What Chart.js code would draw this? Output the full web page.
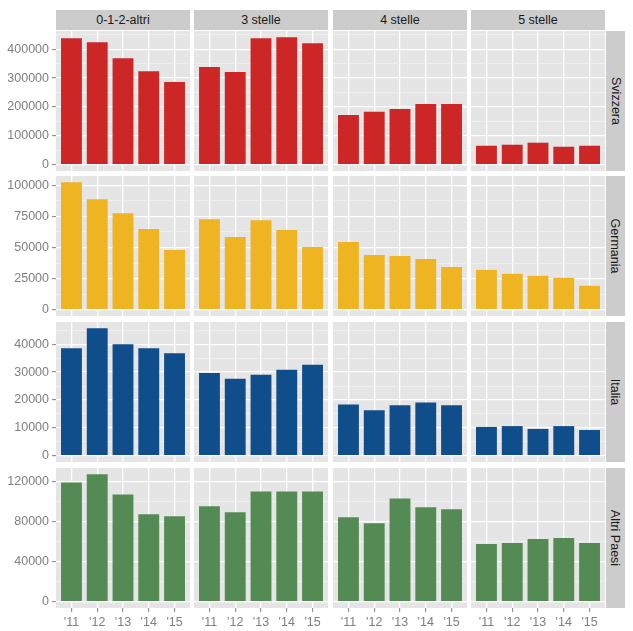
<!DOCTYPE html>
<html><head><meta charset="utf-8">
<script src="https://cdn.jsdelivr.net/npm/chart.js@4"></script>
<style>
body{margin:0;background:#fff;width:633px;height:631px;position:relative;overflow:hidden;font-family:"Liberation Sans",Arial,sans-serif}
.strip{position:absolute;background:#CCCCCC;color:#1A1A1A;font-size:12.5px;display:flex;align-items:center;justify-content:center}
.vtext{transform:rotate(90deg);white-space:nowrap}
canvas{position:absolute}
</style></head><body>
<script>
// ---- data ----
const years = ["'11", "'12", "'13", "'14", "'15"];
const categories = ["0-1-2-altri", "3 stelle", "4 stelle", "5 stelle"];
const countries = ["Svizzera", "Germania", "Italia", "Altri Paesi"];

const svizzera012 = [438000, 424000, 369000, 324000, 286000];
const svizzera3   = [338000, 321000, 438000, 441000, 421000];
const svizzera4   = [172000, 183000, 193000, 210000, 210000];
const svizzera5   = [65500, 69000, 76000, 62000, 65500];

const germania012 = [102400, 88800, 77600, 64800, 48000];
const germania3   = [72800, 58400, 72000, 64000, 50400];
const germania4   = [54400, 44000, 43200, 40800, 34400];
const germania5   = [32000, 28800, 27200, 25600, 19200];

const italia012 = [38600, 45700, 40000, 38600, 36800];
const italia3   = [29700, 27600, 29000, 30800, 32600];
const italia4   = [18400, 16300, 18100, 19100, 18100];
const italia5   = [10300, 10600, 9600, 10600, 9200];

const altri012 = [119000, 127000, 107000, 87300, 85300];
const altri3   = [95200, 89300, 110000, 110000, 110000];
const altri4   = [84300, 78300, 103000, 94200, 92200];
const altri5   = [57500, 58500, 62500, 63500, 58500];

const svizzeraTicks = [0, 100000, 200000, 300000, 400000];
const germaniaTicks = [0, 25000, 50000, 75000, 100000];
const italiaTicks   = [0, 10000, 20000, 30000, 40000];
const altriTicks    = [0, 40000, 80000, 120000];

const rowsData = [
  [svizzera012, svizzera3, svizzera4, svizzera5],
  [germania012, germania3, germania4, germania5],
  [italia012, italia3, italia4, italia5],
  [altri012, altri3, altri4, altri5]
];
const rowsTicks = [svizzeraTicks, germaniaTicks, italiaTicks, altriTicks];
const rowColors = ["#CD2626", "#EEB422", "#104E8B", "#548B54"];

// ---- layout ----
const colLeft = [56, 194, 333, 471];
const colW = 134;
const rowTop = [31, 176, 322, 468];
const rowH = 140;
const TXT = "#7F7F7F";
const FONT = {family: "'Liberation Sans', Arial, sans-serif", size: 12.5};

// strips
categories.forEach((c, i) => {
  const d = document.createElement('div');
  d.className = 'strip';
  d.style.left = colLeft[i] + 'px'; d.style.top = '10px';
  d.style.width = colW + 'px'; d.style.height = '20px';
  d.textContent = c;
  document.body.appendChild(d);
});
countries.forEach((c, j) => {
  const d = document.createElement('div');
  d.className = 'strip';
  d.style.left = '606px'; d.style.top = rowTop[j] + 'px';
  d.style.width = '19px'; d.style.height = rowH + 'px';
  const s = document.createElement('span');
  s.className = 'vtext'; s.textContent = c;
  d.appendChild(s);
  document.body.appendChild(d);
});

const bgPlugin = {
  id: 'panelBg',
  beforeDraw(chart) {
    const a = chart.chartArea, ctx = chart.ctx;
    ctx.save(); ctx.fillStyle = '#E5E5E5';
    ctx.fillRect(a.left, a.top, a.right - a.left, a.bottom - a.top);
    ctx.restore();
  }
};

rowsData.forEach((row, r) => {
  const ticksMajor = rowsTicks[r];
  let rowMax = 0;
  row.forEach(arr => arr.forEach(v => { if (v > rowMax) rowMax = v; }));
  const yMin = -0.05 * rowMax, yMax = 1.05 * rowMax;
  const step = ticksMajor[1] - ticksMajor[0];
  row.forEach((vals, c) => {
    const cv = document.createElement('canvas');
    const left = c === 0 ? 0 : colLeft[c];
    const width = c === 0 ? colLeft[0] + colW : colW;
    const height = r === 3 ? 631 - rowTop[r] : rowH;
    cv.width = width; cv.height = height;
    cv.style.left = left + 'px'; cv.style.top = rowTop[r] + 'px';
    cv.style.width = width + 'px'; cv.style.height = height + 'px';
    document.body.appendChild(cv);
    const showY = c === 0, showX = r === 3;
    new Chart(cv, {
      type: 'bar',
      data: {
        datasets: [{
          data: vals.map((v, i) => ({x: i + 1, y: v})),
          backgroundColor: rowColors[r],
          borderWidth: 0,
          barPercentage: 0.81,
          categoryPercentage: 1.0
        }]
      },
      options: {
        responsive: false, animation: false, devicePixelRatio: 1,
        layout: {padding: 0},
        plugins: {legend: {display: false}, tooltip: {enabled: false}},
        scales: {
          x: {
            type: 'linear', position: 'bottom', min: 0.4, max: 5.6, offset: false,
            afterBuildTicks: s => { s.ticks = years.map((_, i) => ({value: i + 1})); },
            ticks: {display: showX, color: TXT, font: FONT, padding: 3,
              autoSkip: false, maxRotation: 0,
              callback: v => years[Math.round(v) - 1]},
            grid: {offset: false, color: '#FFFFFF', lineWidth: 1.3, drawTicks: showX, tickLength: 4,
              tickColor: TXT, tickWidth: 1},
            border: {display: false},
            afterFit: s => { s.height = showX ? 631 - (rowTop[3] + rowH) : 0;
              s.paddingLeft = 0; s.paddingRight = 0; s.paddingTop = 0; s.paddingBottom = 0; }
          },
          y: {
            type: 'linear', position: 'left', min: yMin, max: yMax,
            afterBuildTicks: s => {
              const t = [];
              ticksMajor.forEach(v => t.push({value: v, minor: false}));
              ticksMajor.forEach(v => {
                const m = v + step / 2;
                if (m < yMax) t.push({value: m, minor: true});
              });
              t.sort((a, b) => a.value - b.value);
              s.ticks = t;
            },
            ticks: {display: showY, color: TXT, font: FONT, padding: 3,
              autoSkip: false,
              callback: (v, i, t) => t[i] && t[i].minor ? '' : String(v)},
            grid: {
              color: ctx => ctx.tick && ctx.tick.minor ? '#F2F2F2' : '#FFFFFF',
              lineWidth: ctx => ctx.tick && ctx.tick.minor ? 0.7 : 1.3,
              drawTicks: showY, tickLength: 4, tickWidth: 1,
              tickColor: ctx => ctx.tick && ctx.tick.minor ? 'rgba(0,0,0,0)' : TXT
            },
            border: {display: false},
            afterFit: s => { s.width = showY ? colLeft[0] : 0;
              s.paddingLeft = 0; s.paddingRight = 0; s.paddingTop = 0; s.paddingBottom = 0; }
          }
        }
      },
      plugins: [bgPlugin]
    });
  });
});
</script>
</body></html>
